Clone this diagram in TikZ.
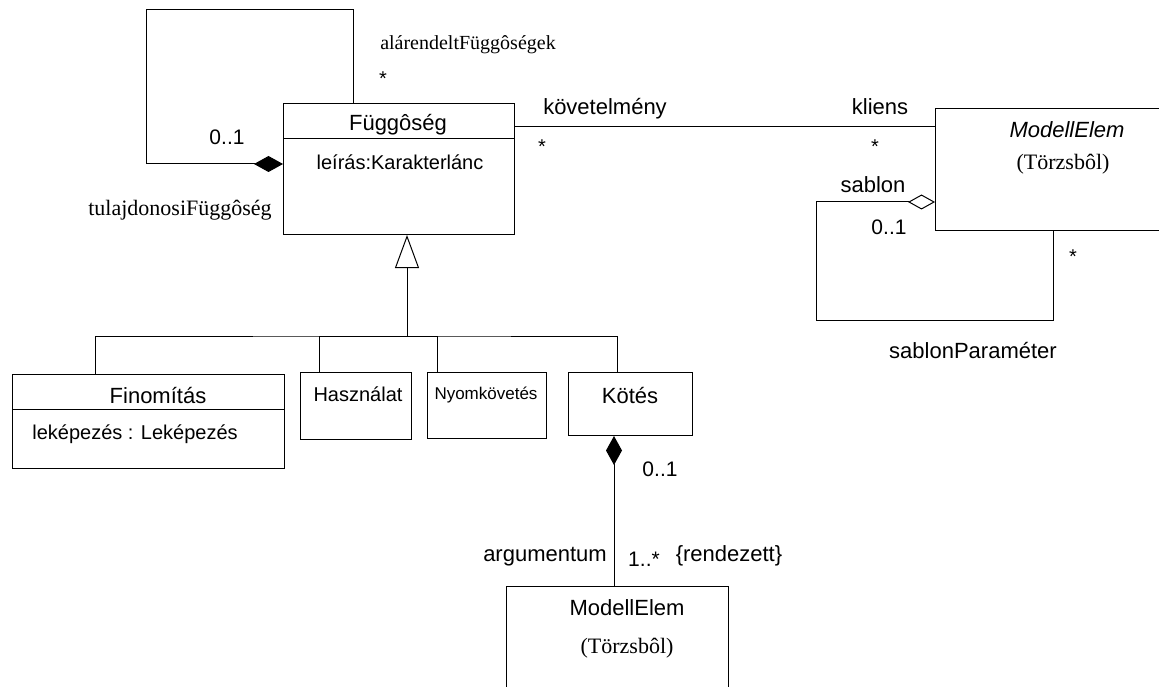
\documentclass[tikz,border=0pt]{standalone}
\usepackage{fontspec}
\setmainfont{Liberation Serif}
\setsansfont{Liberation Sans}
\usetikzlibrary{arrows.meta,calc}

\tikzset{
  umlbox/.style={draw, line width=1pt, rectangle, inner sep=0pt, anchor=north west},
  conn/.style={line width=1pt},
  sanslab/.style={font=\sffamily\fontsize{#1}{#1}\selectfont, inner sep=0pt, anchor=base},
  seriflab/.style={font=\rmfamily\fontsize{#1}{#1}\selectfont, inner sep=0pt, anchor=base},
  composite/.tip={Diamond[length=29pt,width=16pt]},
  shared/.tip={Diamond[open,length=27pt,width=15pt,fill=white]},
  inherit/.tip={Triangle[open,length=33pt,width=24pt,fill=white]},
}

\begin{document}
\begin{tikzpicture}[x=1pt,y=-1pt]
\useasboundingbox (0,0) rectangle (1159,687);
\clip (0,0) rectangle (1159,687);

% ---- classes ----
\node[umlbox, minimum width=231pt, minimum height=131pt] (dep) at (283,103) {};
\draw[conn] (dep.west |- 0,139) -- (dep.east |- 0,139);
\node[umlbox, minimum width=240pt, minimum height=122pt] (me1) at (935,108) {};
\node[umlbox, minimum width=272pt, minimum height=94pt] (fin) at (12,374) {};
\draw[conn] (fin.west |- 0,409) -- (fin.east |- 0,409);
\node[umlbox, minimum width=111pt, minimum height=67pt] (has) at (300,372) {};
\node[umlbox, minimum width=119pt, minimum height=66pt] (nyom) at (427,372) {};
\node[umlbox, minimum width=124pt, minimum height=63pt] (kot) at (568,372) {};
\node[umlbox, minimum width=222pt, minimum height=130pt] (me2) at (506,586) {};

% ---- class texts ----
\node[sanslab=22pt] (t-dep) at (398,131) {Függôség};
\node[sanslab=20pt] (t-depattr) at (400,170) {leírás:Karakterlánc};
\node[sanslab=22pt] (t-me1) at (1067,138) {\itshape ModellElem};
\node[seriflab=22pt] (t-me1b) at (1063,170) {(Törzsbôl)};
\node[sanslab=22pt] (t-fin) at (158,403) {Finomítás};
\node[sanslab=20pt] (t-finattr) at (135,439) {leképezés : Leképezés};
\node[sanslab=20pt] (t-has) at (358,401) {Használat};
\node[sanslab=17pt] (t-nyom) at (486,399) {Nyomkövetés};
\node[sanslab=22pt] (t-kot) at (630,403) {Kötés};
\node[sanslab=22pt] (t-me2) at (627,615) {ModellElem};
\node[seriflab=22pt] (t-me2b) at (627,653) {(Törzsbôl)};

% ---- subdependencies: self association with composition ----
\coordinate (la) at (353,10);
\coordinate (lb) at (146,10);
\coordinate (lc) at (146,164);
\draw[conn, -composite] (dep.north -| la) -- (la) -- (lb) -- (lc) -- (dep.west |- lc);
\node[seriflab=20pt] (r-sub) at (468,50) {alárendeltFüggôségek};
\node[sanslab=20pt] (m-sub) at (383,86) {*};
\node[sanslab=21pt] (m-own) at (227,145) {0..1};
\node[seriflab=22pt] (r-own) at (180,215) {tulajdonosiFüggôség};

% ---- requirement / client association ----
\draw[conn] (dep.east |- 0,127) -- (me1.west |- 0,127);
\node[sanslab=22pt] (r-req) at (605,115) {követelmény};
\node[sanslab=20pt] (m-req) at (542,154) {*};
\node[sanslab=22pt] (r-cli) at (880,115) {kliens};
\node[sanslab=20pt] (m-cli) at (875,154) {*};

% ---- template parameters ----
\coordinate (ta) at (1053,320);
\coordinate (tb) at (816,320);
\coordinate (tc) at (816,202);
\draw[conn, -shared] (me1.south -| ta) -- (ta) -- (tb) -- (tc) -- (me1.west |- tc);
\node[sanslab=22pt] (r-tpl) at (873,193) {sablon};
\node[sanslab=21pt] (m-tpl) at (889,235) {0..1};
\node[sanslab=20pt] (m-par) at (1073,263) {*};
\node[sanslab=22pt] (r-par) at (973,358) {sablonParaméter};

% ---- generalization ----
\coordinate (bus) at (407,336);
\draw[conn, -inherit] (bus) -- (bus |- dep.south);
\draw[conn] (fin.north -| 95,0) |- (bus) -| (kot.north -| 617,0);
\draw[conn] (has.north -| 319,0) |- (bus);
\draw[conn] (nyom.north -| 437,0) |- (bus);

% ---- binding arguments ----
\draw[conn, composite-] (kot.south -| 614,0) -- (me2.north -| 614,0);
\node[sanslab=21pt] (m-bind) at (660,476) {0..1};
\node[sanslab=22pt] (r-arg) at (545,561) {argumentum};
\node[sanslab=21pt] (m-arg) at (644,566) {1..*};
\node[sanslab=22pt] (c-arg) at (729,561) {\{rendezett\}};
\end{tikzpicture}
\end{document}
